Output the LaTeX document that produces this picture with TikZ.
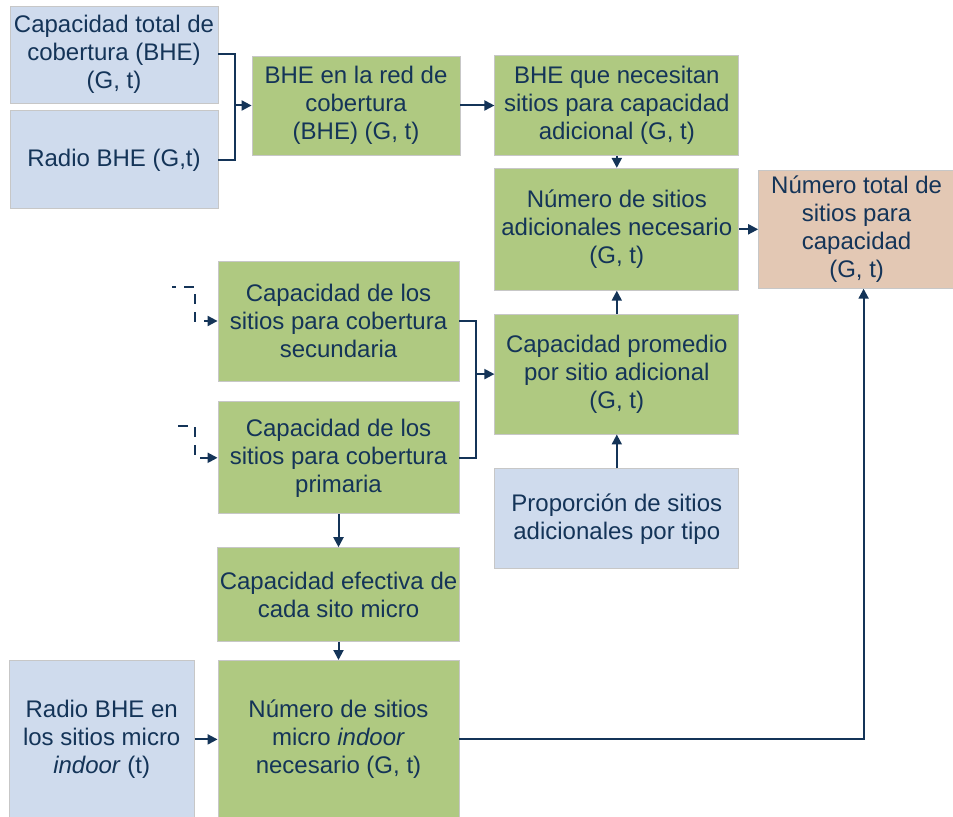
\documentclass[tikz,border=0pt]{standalone}
\usepackage{fontspec}
\setmainfont{Liberation Sans}
\usetikzlibrary{positioning, arrows.meta, calc}

\definecolor{bluebox}{RGB}{207,219,237}
\definecolor{greenbox}{RGB}{175,201,129}
\definecolor{tanbox}{RGB}{227,200,180}
\definecolor{navy}{RGB}{20,52,88}

\begin{document}
\begin{tikzpicture}[x=1pt, y=-1pt, node distance=10pt,
    >={Triangle[length=5pt,width=5pt]},
    every node/.style={font=\fontsize{12}{14}\selectfont, text=navy},
    box/.style={rectangle, draw=black!22, line width=0.4pt, align=center, inner sep=1pt},
    inbox/.style={box, fill=bluebox},
    calcbox/.style={box, fill=greenbox},
    outbox/.style={box, fill=tanbox},
    flow/.style={navy, line width=1pt}]
    \useasboundingbox (0,0) rectangle (476.5,408.5);

    % inputs, top left
    \node[inbox, minimum width=104pt, minimum height=48.5pt] (cob) at (57,27.25)
        {Capacidad total de\\cobertura (BHE)\\(G, t)};
    \node[inbox, minimum width=104pt, minimum height=49pt] (radio) [below=3.5pt of cob]
        {Radio BHE (G,t)};

    % top row
    \node[calcbox, minimum width=104pt, minimum height=49.5pt] (bhered) at (178,52.75)
        {BHE en la red de\\cobertura\\(BHE) (G, t)};
    \node[calcbox, minimum width=122pt, minimum height=50pt] (needcap) [right=17pt of bhered]
        {BHE que necesitan\\sitios para capacidad\\adicional (G, t)};
    \node[calcbox, minimum width=122pt, minimum height=61pt] (addsites) [below=6pt of needcap]
        {Número de sitios\\adicionales necesario\\(G, t)};
    \node[outbox, minimum width=98pt, minimum height=59pt] (total) [right=9.5pt of addsites]
        {Número total de\\sitios para\\capacidad\\(G, t)};
    \node[calcbox, minimum width=122pt, minimum height=60pt] (avgcap) [below=11.5pt of addsites]
        {Capacidad promedio\\por sitio adicional\\(G, t)};
    \node[inbox, minimum width=122pt, minimum height=50pt] (share) [below=17pt of avgcap]
        {Proporción de sitios\\adicionales por tipo};

    % middle column
    \node[calcbox, minimum width=120.5pt, minimum height=60pt] (secund) at (169.25,160.5)
        {Capacidad de los\\sitios para cobertura\\secundaria};
    \node[calcbox, minimum width=120.5pt, minimum height=56pt] (prim) [below=10pt of secund]
        {Capacidad de los\\sitios para cobertura\\primaria};
    \node[calcbox, minimum width=120.5pt, minimum height=47pt] (micro) [below=16.5pt of prim]
        {Capacidad efectiva de\\cada sito micro};
    \node[calcbox, minimum width=120.5pt, minimum height=79pt] (nmicro) [below=9pt of micro]
        {Número de sitios\\micro \textit{indoor}\\necesario (G, t)};
    \node[inbox, minimum width=92.5pt, minimum height=79pt] (radiomicro) [left=11.5pt of nmicro]
        {Radio BHE en\\los sitios micro\\\textit{indoor} (t)};

    % merging connectors
    \coordinate (j1) at ($(bhered.west)+(-8.5,0)$);
    \coordinate (j2) at ($(avgcap.west)+(-9,0)$);
    \draw[flow] (cob.east) -| (j1) (radio.east) -| (j1);
    \draw[flow, ->] (j1) -- (bhered.west);
    \draw[flow] (secund.east) -| (j2) (prim.east) -| (j2);
    \draw[flow, ->] (j2) -- (avgcap.west);

    % dashed inputs
    \coordinate (in7) at (86,143.5);
    \coordinate (in8) at (89,213);
    \draw[flow, ->, dash pattern=on 5pt off 4pt, dash phase=3pt]
        (in7) -| ($(secund.west)+(-11.5,0)$) -- (secund.west);
    \draw[flow, ->, dash pattern=on 5pt off 4pt]
        (in8) -| ($(prim.west)+(-11.5,0)$) -- (prim.west);

    \path[flow, ->]
        (bhered.east) edge (bhered.east -| needcap.west)
        (needcap) edge (addsites)
        (addsites.east) edge (addsites.east -| total.west)
        (avgcap) edge (addsites)
        (share) edge (avgcap)
        (prim) edge (micro)
        (micro) edge (nmicro)
        (radiomicro) edge (nmicro);

    \draw[flow, ->] (nmicro.east) -| ([xshift=3.5pt]total.south);
\end{tikzpicture}
\end{document}
